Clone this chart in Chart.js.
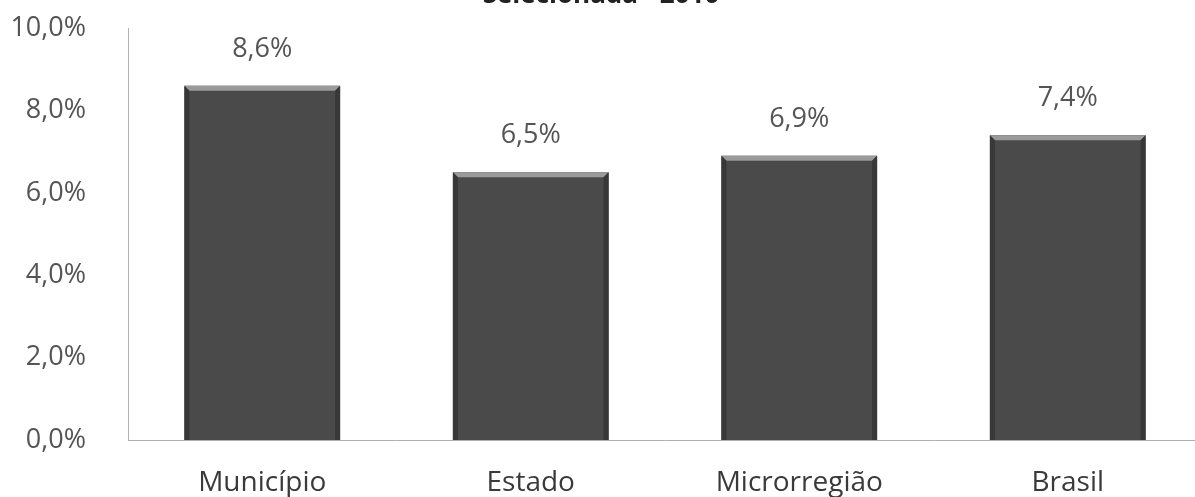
<!DOCTYPE html>
<html>
<head>
<meta charset="utf-8">
<script src="https://cdn.jsdelivr.net/npm/chart.js@4/dist/chart.umd.min.js"></script>
<style>
  html, body { margin: 0; padding: 0; background: #fff; overflow: hidden; }
  #wrap { position: absolute; left: 0; top: -30px; width: 1205px; height: 527px; }
</style>
</head>
<body>
<div id="wrap"><canvas id="chart"></canvas></div>
<script>
const categories = ['Município', 'Estado', 'Microrregião', 'Brasil'];
const values = [8.6, 6.5, 6.9, 7.4];
const yTicks = [0, 2, 4, 6, 8, 10];
const titleText = 'Selecionada - 2010';

function pct(v) {
    return v.toFixed(1).replace('.', ',') + '%';
}

document.addEventListener("DOMContentLoaded", function () {
    let ctx = document.getElementById('chart').getContext('2d');

    // value labels above each bar
    const valueLabels = {
        id: 'valueLabels',
        afterDatasetsDraw: function (chart) {
            let c = chart.ctx;
            let meta = chart.getDatasetMeta(0);
            c.save();
            c.font = '27px "Open Sans"';
            c.fillStyle = '#555555';
            c.textAlign = 'center';
            c.textBaseline = 'middle';
            meta.data.forEach(function (bar, i) {
                c.fillText(pct(values[i]), bar.x, bar.y - 37);
            });
            c.restore();
        }
    };

    // light bevel round the top and sides of the bars
    const bevel = {
        id: 'bevel',
        afterDatasetsDraw: function (chart) {
            let c = chart.ctx;
            let meta = chart.getDatasetMeta(0);
            c.save();
            meta.data.forEach(function (bar) {
                let l = bar.x - bar.width / 2, r = bar.x + bar.width / 2;
                let t = bar.y, b = bar.base, e = 5;
                c.fillStyle = '#9a9a9a';
                c.beginPath();
                c.moveTo(l, t); c.lineTo(r, t); c.lineTo(r - e, t + e); c.lineTo(l + e, t + e);
                c.closePath(); c.fill();
                c.fillStyle = '#383838';
                c.beginPath();
                c.moveTo(l, t); c.lineTo(l + e, t + e); c.lineTo(l + e, b); c.lineTo(l, b);
                c.closePath(); c.fill();
                c.beginPath();
                c.moveTo(r, t); c.lineTo(r - e, t + e); c.lineTo(r - e, b); c.lineTo(r, b);
                c.closePath(); c.fill();
            });
            c.restore();
        }
    };

    new Chart(ctx, {
        type: 'bar',
        data: {
            labels: categories,
            datasets: [{
                data: values,
                backgroundColor: '#4a4a4a',
                borderWidth: 0,
                categoryPercentage: 1,
                barPercentage: 0.58
            }]
        },
        options: {
            responsive: true,
            maintainAspectRatio: false,
            animation: false,
            layout: { padding: { right: 3, left: 0, top: 0, bottom: 0 } },
            plugins: {
                legend: { display: false },
                tooltip: { enabled: false },
                title: {
                    display: true,
                    text: titleText,
                    color: '#222222',
                    font: { family: 'Open Sans', size: 26, weight: 'bold' },
                    padding: { top: 10, bottom: 17 }
                }
            },
            scales: {
                x: {
                    grid: { display: false },
                    border: { display: true, color: '#b0b0b0', width: 1 },
                    ticks: {
                        color: '#3a3a3a',
                        font: { family: 'Open Sans', size: 28 },
                        padding: 18
                    },
                    afterFit: function (scale) { scale.height = 57; }
                },
                y: {
                    min: 0,
                    max: 10,
                    grid: { display: false },
                    border: { display: true, color: '#b0b0b0', width: 1 },
                    afterBuildTicks: function (scale) {
                        scale.ticks = yTicks.map(v => ({ value: v }));
                    },
                    ticks: {
                        color: '#555555',
                        font: { family: 'Open Sans', size: 27 },
                        padding: 34,
                        callback: function (v) { return pct(v); }
                    },
                    afterFit: function (scale) { scale.width = 128; }
                }
            }
        },
        plugins: [bevel, valueLabels]
    });
});
</script>
</body>
</html>
